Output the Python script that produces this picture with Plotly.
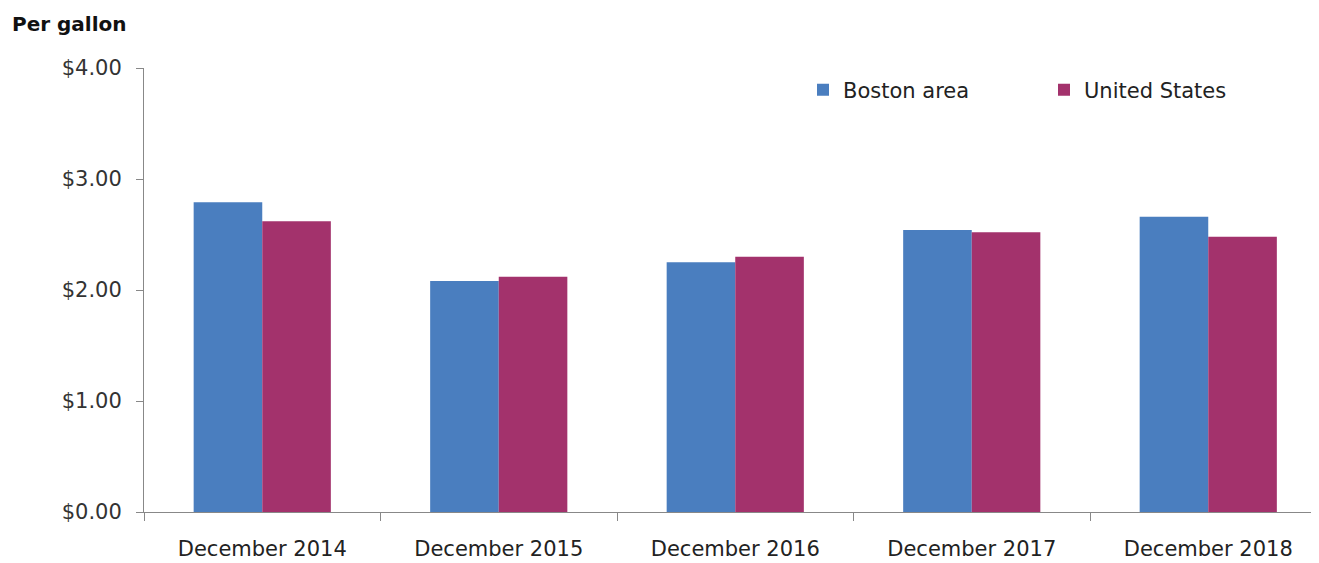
import plotly.graph_objects as go

categories = ["December 2014", "December 2015", "December 2016", "December 2017", "December 2018"]
boston = [2.79, 2.08, 2.25, 2.54, 2.66]
us = [2.62, 2.12, 2.30, 2.52, 2.48]
y_ticks = [0, 1, 2, 3, 4]
y_tick_labels = ["$0.00", "$1.00", "$2.00", "$3.00", "$4.00"]

# page body has an 8px margin; figure coords = page coords - 8
W, H = 1311, 555
ML, MR, MT, MB = 136, 0, 60, 51
PW, PH = W - ML - MR, H - MT - MB
CAT_PX = 236.5  # width of one category slot in the reference
x_range = [-0.5, -0.5 + PW / CAT_PX]

fig = go.Figure()
fig.add_trace(go.Bar(name="Boston area", x=categories, y=boston, marker=dict(color="#4A7EBF", line=dict(width=0))))
fig.add_trace(go.Bar(name="United States", x=categories, y=us, marker=dict(color="#A3326C", line=dict(width=0))))

font = "DejaVu Sans, sans-serif"
fig.update_layout(
    width=W, height=H,
    margin=dict(l=ML, r=MR, t=MT, b=MB, autoexpand=False),
    paper_bgcolor="white", plot_bgcolor="white",
    barmode="group", bargap=0.42, bargroupgap=0,
    font=dict(family=font, size=21, color="#222222"),
    showlegend=True,
    legend=dict(orientation="h", x=(803 - 144) / PW, y=1 - (90 - 68) / PH, xanchor="left", yanchor="middle",
                font=dict(size=21, color="#222222"), itemwidth=30, entrywidth=196,
                bgcolor="rgba(0,0,0,0)"),
    annotations=[dict(text="<b>Per gallon</b>", xref="paper", yref="paper", x=(10 - 8 - ML) / PW,
                      y=1 + (68 - 24) / PH, xanchor="left", yanchor="middle", showarrow=False,
                      font=dict(family=font, size=20, color="#111111"))],
)
fig.update_xaxes(range=x_range, showline=True, linecolor="#888888", linewidth=1, ticks="outside",
                 tickson="boundaries", ticklen=8, tickcolor="#888888", showgrid=False, ticklabelstandoff=18,
                 tickfont=dict(size=21, color="#222222"))
fig.update_yaxes(range=[0, 4], tickvals=y_ticks, ticktext=y_tick_labels, showline=True, linecolor="#888888",
                 linewidth=1, ticks="outside", ticklen=7, tickcolor="#888888", showgrid=False, zeroline=False,
                 ticklabelstandoff=10, tickfont=dict(size=21, color="#333333"))
fig.write_html("out.html")
